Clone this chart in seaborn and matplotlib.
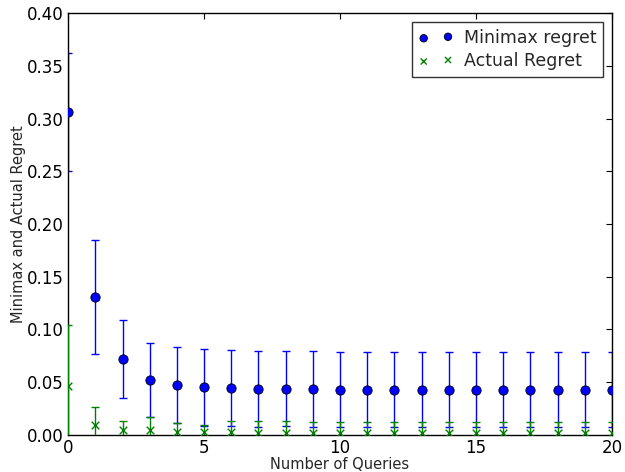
import numpy as np
import matplotlib
matplotlib.use("Agg")
import matplotlib.pyplot as plt
import seaborn as sns

# data
queries = list(range(21))
minimax = [0.306, 0.131, 0.072, 0.052, 0.047, 0.045, 0.0443, 0.0437, 0.0436, 0.0432,
           0.0428, 0.0428, 0.0428, 0.0428, 0.0428, 0.0428, 0.0428, 0.0428, 0.0428, 0.0428, 0.0428]
minimax_err = [0.056, 0.054, 0.037, 0.0355, 0.036, 0.0363, 0.0361, 0.036, 0.0358, 0.0362,
               0.0357, 0.0357, 0.0357, 0.0357, 0.0357, 0.0357, 0.0357, 0.0357, 0.0357, 0.0357, 0.0357]
actual = [0.046, 0.009, 0.004, 0.004, 0.003, 0.003, 0.003, 0.002, 0.002, 0.002,
          0.002, 0.002, 0.002, 0.002, 0.002, 0.002, 0.002, 0.002, 0.002, 0.002, 0.002]
actual_err = [0.058, 0.017, 0.009, 0.0125, 0.0077, 0.0065, 0.01, 0.0106, 0.0106, 0.01,
              0.01, 0.01, 0.01, 0.01, 0.01, 0.01, 0.01, 0.01, 0.01, 0.01, 0.01]

sns.set_style("white")
plt.rcParams['font.family'] = ['DejaVu Sans']

fig = plt.figure(figsize=(6.25, 4.72), dpi=100)
ax = fig.add_axes([0.109, 0.079, 0.870, 0.893])

ax.errorbar(queries, minimax, yerr=minimax_err, fmt='none', ecolor='#0000ff',
            elinewidth=1, capsize=3, capthick=1, zorder=2)
sns.scatterplot(x=queries, y=minimax, ax=ax, marker='o', s=45, color='#0000ff',
                edgecolor='black', linewidth=0.6, label='Minimax regret', zorder=3)
ax.errorbar(queries, actual, yerr=actual_err, fmt='none', ecolor='#008000',
            elinewidth=1, capsize=3, capthick=1, zorder=4)
sns.scatterplot(x=queries, y=actual, ax=ax, marker='x', s=30, color='#008000',
                linewidth=1, label='Actual Regret', zorder=5)

ax.set_xlim(0, 20)
ax.set_ylim(0, 0.40)
ax.set_xticks([0, 5, 10, 15, 20])
ax.set_yticks(np.arange(0, 0.401, 0.05))
ax.set_yticklabels([f'{v:.2f}' for v in np.arange(0, 0.401, 0.05)])
ax.tick_params(direction='in', length=4, width=0.8, top=True, right=True,
               labelsize=12, pad=3, colors='black')
for s in ax.spines.values():
    s.set_color('black')
    s.set_linewidth(1)
ax.set_xlabel('Number of Queries', fontsize=10.5, labelpad=0)
ax.set_ylabel('Minimax and Actual Regret', fontsize=10.5, labelpad=1)

leg = ax.legend(loc='upper right', scatterpoints=2, markerscale=0.8, fontsize=12.5,
                frameon=True, fancybox=False, borderaxespad=0.5, handletextpad=0.6,
                handlelength=2.0, borderpad=0.4, labelspacing=0.3)
leg.get_frame().set_edgecolor('black')
leg.get_frame().set_linewidth(1)

fig.savefig('out.png', dpi=100)
